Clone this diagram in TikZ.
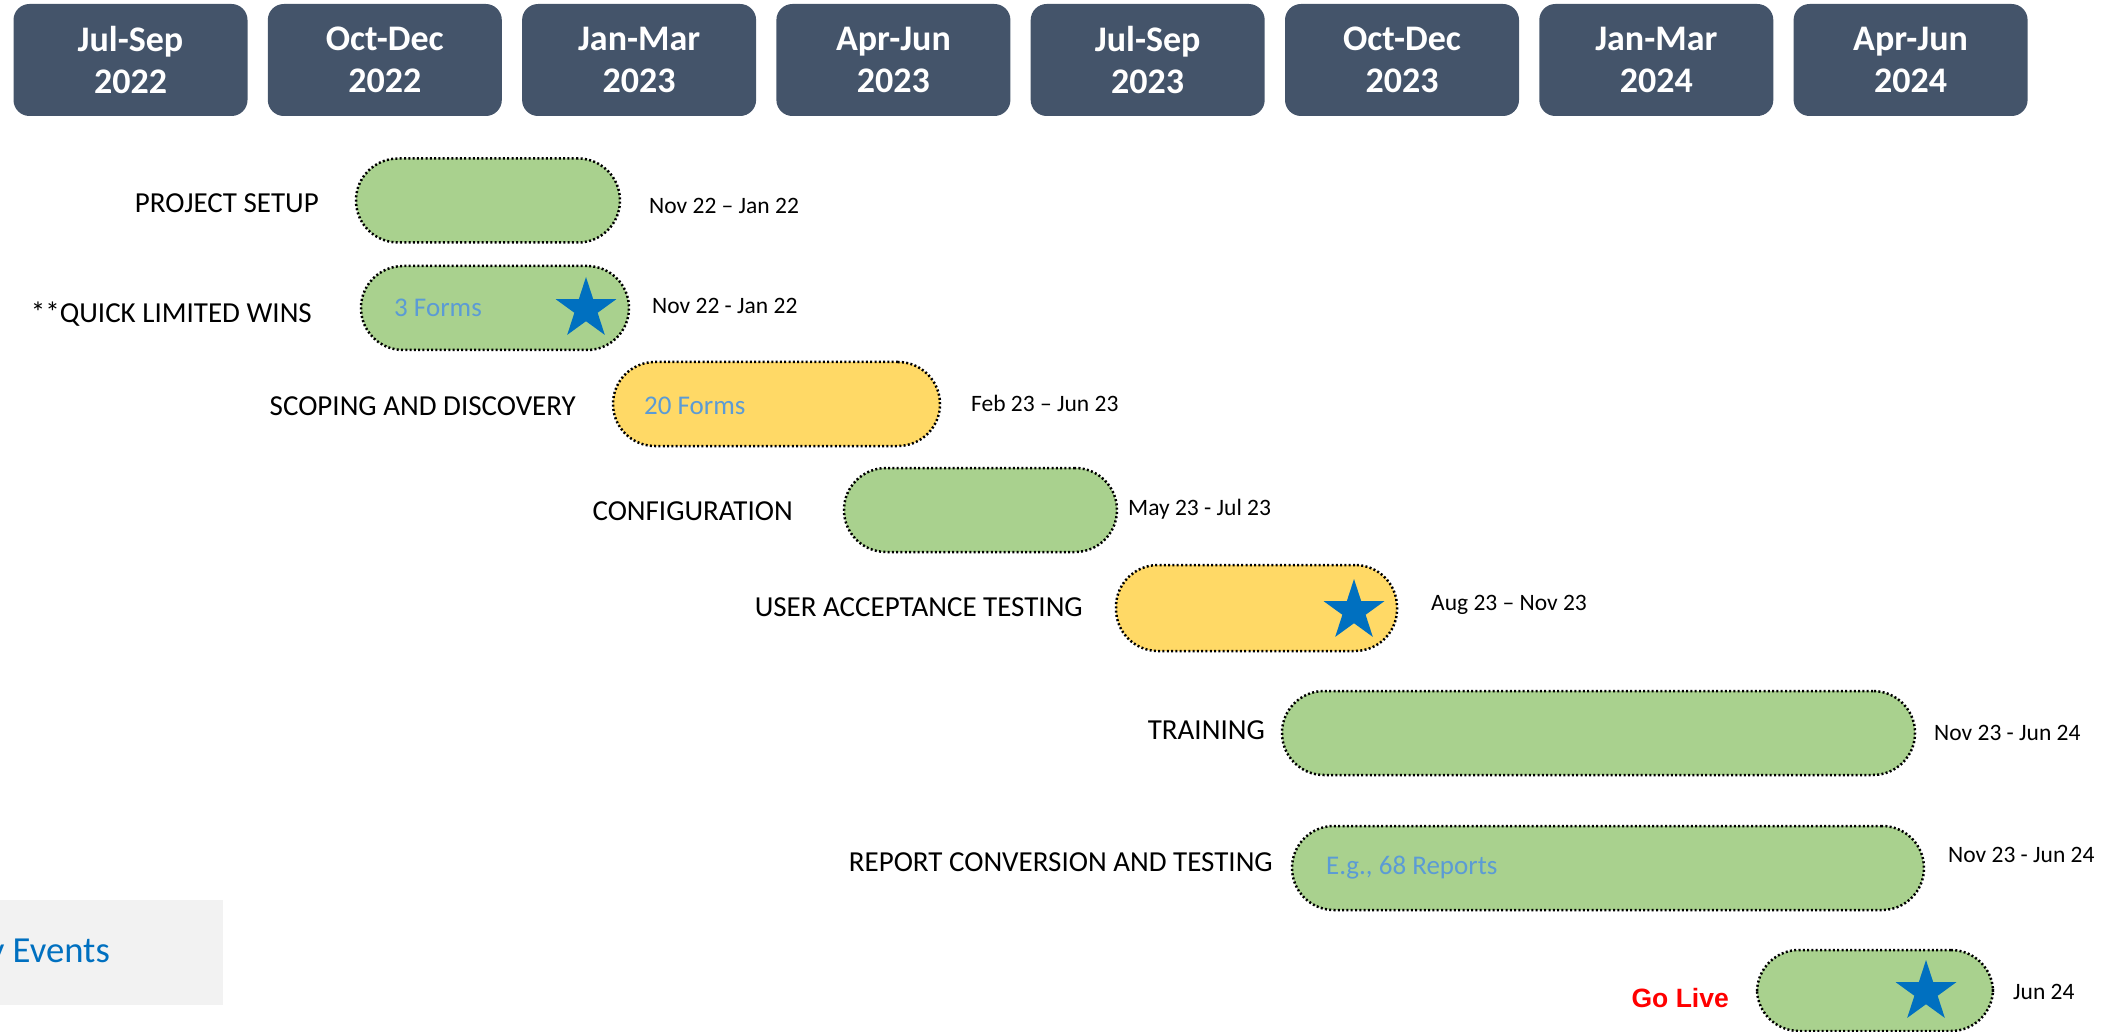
\documentclass[tikz,border=0pt]{standalone}
\usepackage{fontspec}
\setmainfont{Carlito}
\newfontfamily\arialfont{Liberation Sans}
\usetikzlibrary{shapes.geometric}
\definecolor{headerfill}{HTML}{44546A}
\definecolor{barGreen}{HTML}{A9D18E}
\definecolor{barYellow}{HTML}{FFD966}
\definecolor{starBlue}{HTML}{0070C0}
\definecolor{noteBlue}{HTML}{5B9BD5}
\definecolor{legendGray}{HTML}{F2F2F2}
\definecolor{goRed}{HTML}{FF0000}
\begin{document}
\begin{tikzpicture}[x=1pt,y=-1pt,
  quarter/.style={fill=headerfill, draw=none, rounded corners=16pt,
    minimum width=234pt, minimum height=112pt, inner sep=0pt,
    text=white, align=center, font=\fontsize{36}{42}\selectfont\bfseries},
  phasebar/.style={fill=#1, draw=black, line width=2.5pt,
    dash pattern=on 2pt off 2.3pt, rounded corners=42pt,
    minimum height=84pt, inner sep=0pt},
  tasklabel/.style={anchor=east, inner sep=0pt, font=\fontsize{29}{34}\selectfont},
  datelabel/.style={anchor=west, inner sep=0pt, font=\fontsize{23.5}{28}\selectfont},
  note/.style={anchor=west, inner sep=0pt, text=noteBlue, font=\fontsize{27}{32}\selectfont},
  keystar/.style={star, star points=5, star point ratio=2.618, fill=starBlue,
    draw=none, minimum size=64pt, inner sep=0pt}
]
\useasboundingbox (0,0) rectangle (2121,1032);

% quarter headers
\foreach \lbl/\yr [count=\i from 0] in {Jul-Sep/2022, Oct-Dec/2022, Jan-Mar/2023, Apr-Jun/2023,
    Jul-Sep/2023, Oct-Dec/2023, Jan-Mar/2024, Apr-Jun/2024}
  \node[quarter] (q\i) at ({130.5+254.3*\i},60) {\lbl\\\yr};

% legend panel
\node[fill=legendGray, draw=none, anchor=north west, minimum width=223pt,
  minimum height=105pt, inner sep=0pt] (legend) at (0,900) {};
\node[anchor=east, inner sep=0pt, text=starBlue, font=\fontsize{36.7}{42}\selectfont]
  (legendtxt) at (110,954) {Key Events};

% phase bars
\node[phasebar=barGreen, minimum width=264pt] (setup) at (488,200.5) {};
\node[phasebar=barGreen, minimum width=268pt] (wins) at (495,308) {};
\node[phasebar=barYellow, minimum width=327pt] (scope) at (776.5,404) {};
\node[phasebar=barGreen, minimum width=273pt] (config) at (980.5,510) {};
\node[phasebar=barYellow, minimum width=281pt, minimum height=86pt] (uat) at (1256.5,608) {};
\node[phasebar=barGreen, minimum width=633pt] (train) at (1598.5,733) {};
\node[phasebar=barGreen, minimum width=632pt] (report) at (1608,868) {};
\node[phasebar=barGreen, minimum width=236pt, minimum height=81pt] (golive) at (1875,990.5) {};

% text inside bars
\node[note] (winsnote) at (394,308) {3 Forms};
\node[note] (scopenote) at (644,406) {20 Forms};
\node[note] (reportnote) at (1326,868) {E.g., 68 Reports};

% key-event stars
\node[keystar] (star1) at (586,309) {};
\node[keystar] (star2) at (1354,611) {};
\node[keystar] (star3) at (1926,992) {};

% task names
\node[tasklabel] (lsetup) at (319,203) {PROJECT SETUP};
\node[tasklabel] (lwins) at (312,314) {**QUICK LIMITED WINS};
\node[tasklabel] (lscope) at (576,406) {SCOPING AND DISCOVERY};
\node[tasklabel] (lconfig) at (793,511) {CONFIGURATION};
\node[tasklabel] (luat) at (1083,607) {USER ACCEPTANCE TESTING};
\node[tasklabel] (ltrain) at (1265,730) {TRAINING};
\node[tasklabel] (lreport) at (1273,862) {REPORT CONVERSION AND TESTING};
\node[anchor=east, inner sep=0pt, text=goRed, font=\arialfont\bfseries\fontsize{26.5}{30}\selectfont]
  (lgolive) at (1729,998) {Go Live};

% dates
\node[datelabel] (dsetup) at (649,206) {Nov 22 – Jan 22};
\node[datelabel] (dwins) at (652,306) {Nov 22 - Jan 22};
\node[datelabel] (dscope) at (971,403) {Feb 23 – Jun 23};
\node[datelabel] (dconfig) at (1128,509) {May 23 - Jul 23};
\node[datelabel] (duat) at (1431,605) {Aug 23 – Nov 23};
\node[datelabel] (dtrain) at (1934,733) {Nov 23 - Jun 24};
\node[datelabel] (dreport) at (1948,855) {Nov 23 - Jun 24};
\node[datelabel] (dgolive) at (2013,992) {Jun 24};
\end{tikzpicture}
\end{document}
